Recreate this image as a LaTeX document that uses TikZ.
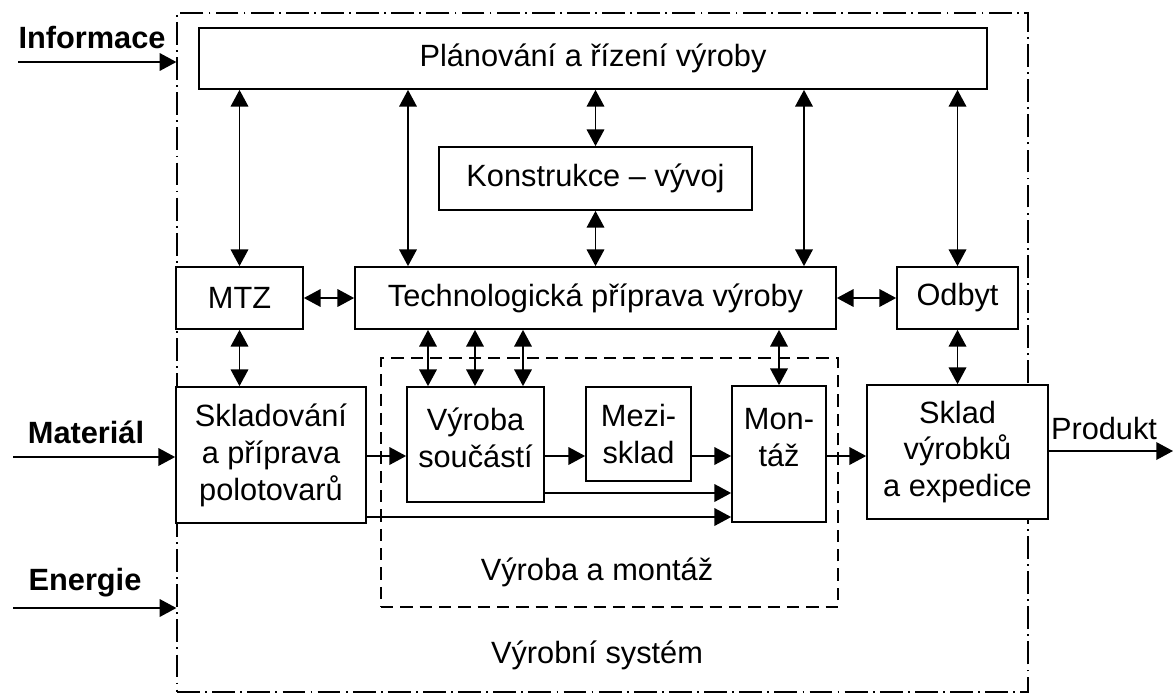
\documentclass[tikz,border=0pt]{standalone}
\usepackage{fontspec}
\setmainfont{Liberation Sans}
\usetikzlibrary{arrows.meta}

\begin{document}
\begin{tikzpicture}[x=0.02cm, y=-0.02cm,
  every node/.style={font=\fontsize{17.5}{21}\selectfont},
  box/.style={draw, line width=1pt, fill=white, align=center, inner sep=0pt},
  lbl/.style={font=\fontsize{17.5}{21}\selectfont\bfseries},
  arr/.style={line width=0.9pt, -{Triangle[length=9.5pt,width=10pt]}},
  darr/.style={line width=0.9pt, {Triangle[length=9.5pt,width=10pt]}-{Triangle[length=9.5pt,width=10pt]}}]
  \useasboundingbox (0,0) rectangle (1175,697);
  \node[draw, line width=0.8pt, dash pattern=on 13pt off 3pt on 1pt off 3pt,
        minimum width=17.02cm, minimum height=13.58cm] (sys) at (602.5,352.5) {};
  \node[draw, line width=0.8pt, dash pattern=on 7pt off 4pt,
        minimum width=9.14cm, minimum height=4.98cm] (vam) at (609.5,482.5) {};
  \node[box, minimum width=15.76cm, minimum height=1.22cm] (plan) at (593,58.5) {Plánování a řízení výroby};
  \node[box, minimum width=6.26cm, minimum height=1.26cm] (kon) at (595.5,178.5) {Konstrukce -- vývoj};
  \node[box, minimum width=2.54cm, minimum height=1.24cm] (mtz) at (239.5,298) {MTZ};
  \node[box, minimum width=9.62cm, minimum height=1.24cm] (tech) at (595.5,298) {Technologická příprava výroby};
  \node[box, minimum width=2.42cm, minimum height=1.24cm] (odbyt) at (957.5,298) {Odbyt};
  \node[box, minimum width=3.8cm, minimum height=2.72cm] (sklad) at (271,455) {Skladování\\a příprava\\polotovarů};
  \node[box, minimum width=2.74cm, minimum height=2.3cm] (vyr) at (475.5,444.5) {};
  \node[align=center] (vyrtxt) at (475.5,438) {Výroba\\součástí};
  \node[box, minimum width=2.1cm, minimum height=1.88cm] (mezi) at (638.5,434) {Mezi-\\sklad};
  \node[box, minimum width=1.88cm, minimum height=2.72cm] (mon) at (779,454) {};
  \node[align=center] (montxt) at (779,438) {Mon-\\táž};
  \node[box, minimum width=3.62cm, minimum height=2.68cm] (sklvyr) at (957.5,452) {Sklad\\výrobků\\a expedice};
  \node (vamtxt) at (597,572) {Výroba a montáž};
  \node (systxt) at (597,655) {Výrobní systém};
  \node[lbl] (infl) at (92,38) {Informace};
  \node[lbl] (matl) at (86,432) {Materiál};
  \node[lbl] (enel) at (85,583) {Energie};
  \node (prod) at (1104,428) {Produkt};
  \coordinate (inf) at (18,62);
  \coordinate (mat) at (13,457);
  \coordinate (ene) at (13,608);
  \coordinate (out) at (1173,451);
  \coordinate (r1) at (0,456);
  \coordinate (r2) at (0,493);
  \coordinate (r3) at (0,517);
  \coordinate (c1) at (408,0);
  \coordinate (c2) at (804,0);
  \draw[arr] (inf) -- (inf -| sys.west);
  \draw[arr] (mat) -- (mat -| sklad.west);
  \draw[arr] (ene) -- (ene -| sys.west);
  \draw[arr] (sklvyr.east |- out) -- (out);
  \draw[darr] (plan.south -| mtz.north) -- (mtz.north);
  \draw[darr] (plan.south -| c1) -- (tech.north -| c1);
  \draw[darr] (plan.south -| kon.north) -- (kon.north);
  \draw[darr] (kon.south) -- (tech.north -| kon.south);
  \draw[darr] (plan.south -| c2) -- (tech.north -| c2);
  \draw[darr] (plan.south -| odbyt.north) -- (odbyt.north);
  \draw[darr] (mtz.east) -- (tech.west);
  \draw[darr] (tech.east) -- (odbyt.west);
  \draw[darr] (mtz.south) -- (mtz.south |- sklad.north);
  \draw[darr] (odbyt.south) -- (sklvyr.north);
  \foreach \x in {428,475,523}
    \draw[darr] (tech.south -| \x,0) -- (vyr.north -| \x,0);
  \draw[darr] (tech.south -| mon.north) -- (mon.north);
  \draw[arr] (sklad.east |- r1) -- (vyr.west |- r1);
  \draw[arr] (vyr.east |- r1) -- (mezi.west |- r1);
  \draw[arr] (mezi.east |- r1) -- (mon.west |- r1);
  \draw[arr] (vyr.east |- r2) -- (mon.west |- r2);
  \draw[arr] (sklad.east |- r3) -- (mon.west |- r3);
  \draw[arr] (mon.east |- r1) -- (sklvyr.west |- r1);
\end{tikzpicture}
\end{document}
